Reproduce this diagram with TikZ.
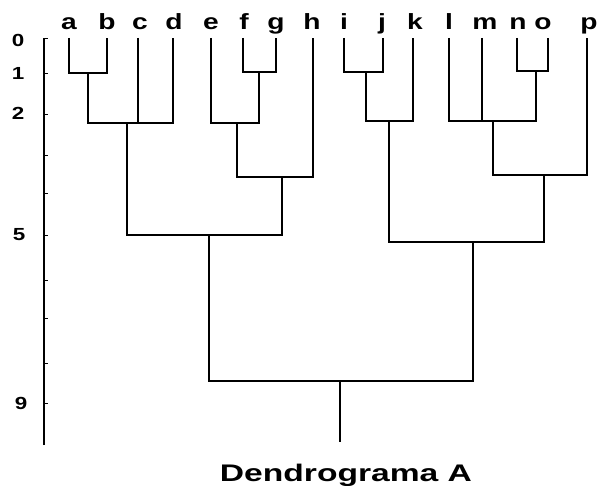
\documentclass[tikz,border=0pt]{standalone}
\usepackage{fontspec}
\setmainfont{Liberation Sans}
\usepackage{graphicx}
\newcommand\widetxt[2][1.28]{\scalebox{#1}[1]{#2}}
\begin{document}
\begin{tikzpicture}[x=1pt,y=-1pt,
  tree/.style={line width=2.1pt,line join=miter},
  axisline/.style={line width=1.9pt},
  tickmark/.style={line width=0.9pt},
  leaflbl/.style={anchor=base,inner sep=0pt,font=\fontsize{22}{22}\selectfont\bfseries},
  numlbl/.style={anchor=center,inner sep=0pt,font=\fontsize{17.5}{17.5}\selectfont\bfseries},
  titlelbl/.style={anchor=base,inner sep=0pt,font=\fontsize{24}{24}\selectfont\bfseries}]
\useasboundingbox (0,0) rectangle (597,486);
% leaf tops
\coordinate (a) at (69,38);
\coordinate (b) at (107,38);
\coordinate (c) at (138,38);
\coordinate (d) at (173,38);
\coordinate (e) at (211,38);
\coordinate (f) at (243,38);
\coordinate (g) at (276,38);
\coordinate (h) at (313,38);
\coordinate (i) at (344,38);
\coordinate (j) at (383,38);
\coordinate (k) at (413,38);
\coordinate (l) at (449,38);
\coordinate (m) at (482,38);
\coordinate (n) at (517,38);
\coordinate (o) at (548,38);
\coordinate (p) at (587,38);
% merge points
\coordinate (ab) at (88,73);
\coordinate (abcd) at (127,123);
\coordinate (fg) at (259,72);
\coordinate (efg) at (237,123);
\coordinate (efgh) at (282,177);
\coordinate (L) at (209,235);
\coordinate (ij) at (366,72);
\coordinate (ijk) at (389,121);
\coordinate (no) at (536,71);
\coordinate (lmno) at (493,121);
\coordinate (lmnop) at (544,175);
\coordinate (R) at (473,242);
\coordinate (root) at (340,381);
\coordinate (rootend) at (340,442);
% tree
\draw[tree] (a) |- (ab) -| (b);
\draw[tree] (ab) |- (abcd) -| (d);
\draw[tree] (c) -- (c |- abcd);
\draw[tree] (f) |- (fg) -| (g);
\draw[tree] (e) |- (efg) -| (fg);
\draw[tree] (efg) |- (efgh) -| (h);
\draw[tree] (abcd) |- (L) -| (efgh);
\draw[tree] (i) |- (ij) -| (j);
\draw[tree] (ij) |- (ijk) -| (k);
\draw[tree] (n) |- (no) -| (o);
\draw[tree] (l) |- (lmno) -| (no);
\draw[tree] (m) -- (m |- lmno);
\draw[tree] (lmno) |- (lmnop) -| (p);
\draw[tree] (ijk) |- (R) -| (lmnop);
\draw[tree] (L) |- (root) -| (R);
\draw[tree] (root) -- (rootend);
% axis
\coordinate (axtop) at (44,38);
\coordinate (axbot) at (44,445);
\draw[axisline] (axbot) -- (axtop);
\foreach \yy in {38,73,114,155,193,235,280,318,363,403}
  \draw[tickmark] (44,\yy) -- ++(4,0);
% axis labels
\node[numlbl] (n0) at (18,40) {\widetxt{0}};
\node[numlbl] (n1) at (18,73) {\widetxt{1}};
\node[numlbl] (n2) at (18,113) {\widetxt{2}};
\node[numlbl] (n5) at (19,235) {\widetxt{5}};
\node[numlbl] (n9) at (21,403) {\widetxt{9}};
% leaf labels
\node[leaflbl] (ta) at (69,30) {\widetxt{a}};
\node[leaflbl] (tb) at (107,30) {\widetxt{b}};
\node[leaflbl] (tc) at (140,30) {\widetxt{c}};
\node[leaflbl] (td) at (174,30) {\widetxt{d}};
\node[leaflbl] (te) at (211,30) {\widetxt{e}};
\node[leaflbl] (tf) at (244,30) {\widetxt{f}};
\node[leaflbl] (tg) at (276,30) {\widetxt{g}};
\node[leaflbl] (th) at (312,30) {\widetxt{h}};
\node[leaflbl] (ti) at (344,30) {\widetxt{i}};
\node[leaflbl] (tj) at (382,30) {\widetxt{j}};
\node[leaflbl] (tk) at (415,30) {\widetxt{k}};
\node[leaflbl] (tl) at (449,30) {\widetxt{l}};
\node[leaflbl] (tm) at (485,30) {\widetxt{m}};
\node[leaflbl] (tn) at (518,30) {\widetxt{n}};
\node[leaflbl] (to) at (543,30) {\widetxt{o}};
\node[leaflbl] (tp) at (589,30) {\widetxt{p}};
% title
\node[titlelbl] (title) at (346,481) {\widetxt[1.4]{Dendrograma A}};
\end{tikzpicture}
\end{document}
